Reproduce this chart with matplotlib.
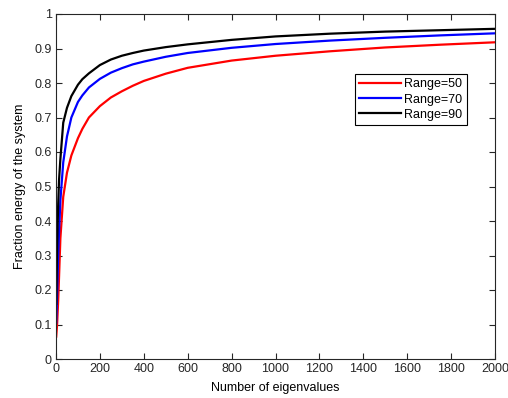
import matplotlib
matplotlib.use("Agg")
import matplotlib.pyplot as plt

# values
eig_n = [1, 5, 10, 14, 20, 33, 50, 70, 100, 120, 150, 200, 250, 300, 350, 400, 500, 600,
         800, 1000, 1250, 1500, 1750, 2000]
range50 = [0.065, 0.10, 0.17, 0.24, 0.35, 0.47, 0.54, 0.59, 0.64, 0.667, 0.70, 0.733, 0.758,
           0.776, 0.792, 0.806, 0.827, 0.844, 0.865, 0.879, 0.892, 0.903, 0.911, 0.918]
range70 = [0.105, 0.19, 0.30, 0.37, 0.46, 0.57, 0.645, 0.70, 0.745, 0.764, 0.787, 0.812, 0.830,
           0.843, 0.854, 0.862, 0.876, 0.887, 0.902, 0.913, 0.923, 0.931, 0.938, 0.944]
range90 = [0.16, 0.33, 0.45, 0.52, 0.58, 0.685, 0.728, 0.762, 0.795, 0.811, 0.828, 0.852, 0.868,
           0.879, 0.887, 0.894, 0.904, 0.912, 0.925, 0.935, 0.943, 0.949, 0.953, 0.957]

labels = ["Range=50", "Range=70", "Range=90"]
colors = ["red", "blue", "black"]
xticks = [0, 200, 400, 600, 800, 1000, 1200, 1400, 1600, 1800, 2000]
yticks = [0, 0.1, 0.2, 0.3, 0.4, 0.5, 0.6, 0.7, 0.8, 0.9, 1]


def main():
    plt.rcParams['font.family'] = ['Liberation Sans', 'DejaVu Sans']
    plt.rcParams['font.size'] = 9

    fig = plt.figure(figsize=(5.08, 3.98), dpi=100)
    ax = fig.add_axes([56 / 508, 39 / 398, 439 / 508, 345 / 398])

    # one line per range
    for ys, lab, c in zip([range50, range70, range90], labels, colors):
        ax.plot(eig_n, ys, color=c, linewidth=1.6, label=lab)

    ax.set_xlim(0, 2000)
    ax.set_ylim(0, 1)
    ax.set_xticks(xticks)
    ax.set_yticks(yticks)
    ax.set_yticklabels(["0", "0.1", "0.2", "0.3", "0.4", "0.5", "0.6", "0.7", "0.8", "0.9", "1"])
    ax.tick_params(direction="in", length=4, top=True, right=True, colors="#262626",
                   labelsize=9, pad=3)
    for s in ax.spines.values():
        s.set_linewidth(0.8)
        s.set_color("#262626")

    ax.set_xlabel("Number of eigenvalues", fontsize=9, labelpad=5)
    ax.set_ylabel("Fraction energy of the system", fontsize=9, labelpad=6)

    leg = ax.legend(loc="upper left", bbox_to_anchor=(0.681, 0.826), fontsize=9,
                    handlelength=3.3, handletextpad=0.3, borderpad=0.35,
                    labelspacing=0.25, fancybox=False, framealpha=1, borderaxespad=0)
    leg.get_frame().set_edgecolor("black")
    leg.get_frame().set_linewidth(0.8)

    fig.savefig("out.png", dpi=100)


main()
